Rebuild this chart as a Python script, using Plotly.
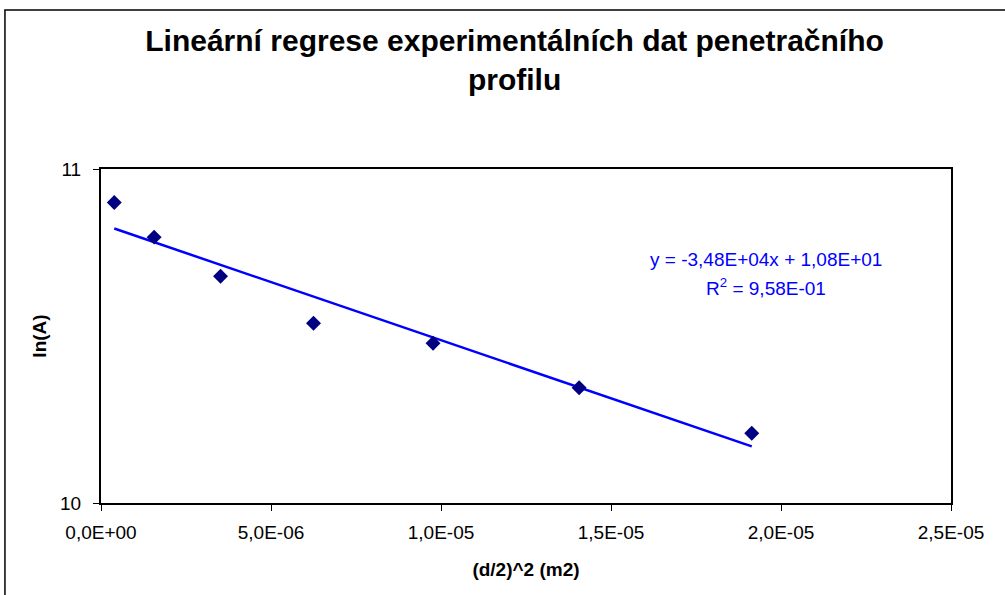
import numpy as np
import plotly.graph_objects as go

# data
x_vals = [3.906e-07, 1.5625e-06, 3.516e-06, 6.25e-06, 9.766e-06, 1.40625e-05, 1.914e-05]
y_vals = [10.900, 10.796, 10.679, 10.538, 10.478, 10.345, 10.209]
x_tick_vals = [0, 5e-06, 1e-05, 1.5e-05, 2e-05, 2.5e-05]
x_tick_text = ["0,0E+00", "5,0E-06", "1,0E-05", "1,5E-05", "2,0E-05", "2,5E-05"]
y_tick_vals = [10, 11]
y_tick_text = ["10", "11"]
title_text = "Lineární regrese experimentálních dat penetračního<br>profilu"
x_title = "(d/2)^2 (m2)"
y_title = "ln(A)"
eq_line1 = "y = -3,48E+04x + 1,08E+01"
eq_line2 = "R<sup>2</sup> = 9,58E-01"

# linear trendline from data
slope, intercept = np.polyfit(x_vals, y_vals, 1)
x_fit = [min(x_vals), max(x_vals)]
y_fit = [slope * v + intercept for v in x_fit]

FONT = "Liberation Sans, Arial, sans-serif"

fig = go.Figure()
fig.add_trace(go.Scatter(
    x=x_fit, y=y_fit, mode="lines",
    line=dict(color="#0000FF", width=2.5),
    showlegend=False, hoverinfo="skip",
))
fig.add_trace(go.Scatter(
    x=x_vals, y=y_vals, mode="markers",
    marker=dict(symbol="diamond", size=11.5, color="#000080",
                line=dict(color="#000080", width=0)),
    showlegend=False,
))

fig.update_layout(
    width=1005, height=595,
    margin=dict(l=101, r=54, t=169, b=92),
    paper_bgcolor="white", plot_bgcolor="white",
    font=dict(family=FONT, color="black", size=19),
    title=dict(text="<b>" + title_text + "</b>",
               x=0.512, xanchor="center", y=0.915, yanchor="top",
               font=dict(family=FONT, size=30, color="black")),
    xaxis=dict(range=[0, 2.5e-05], tickvals=x_tick_vals, ticktext=x_tick_text,
               showgrid=False, zeroline=False, showline=True, mirror=True,
               linecolor="black", linewidth=2, ticks="outside", ticklen=6,
               tickcolor="black", tickwidth=1, ticklabelstandoff=5,
               tickfont=dict(size=19),
               title=dict(text="<b>" + x_title + "</b>", standoff=21,
                          font=dict(size=19))),
    yaxis=dict(range=[10, 11], tickvals=y_tick_vals, ticktext=y_tick_text,
               showgrid=False, zeroline=False, showline=True, mirror=True,
               linecolor="black", linewidth=2, ticks="outside", ticklen=6,
               tickcolor="black", tickwidth=1, ticklabelstandoff=8,
               tickfont=dict(size=19),
               title=dict(text="<b>" + y_title + "</b>", standoff=8,
                          font=dict(size=19))),
)

fig.add_annotation(text=eq_line1, xref="paper", yref="paper",
                   x=0.7824, y=0.729, xanchor="center", yanchor="middle",
                   showarrow=False, font=dict(size=19, color="#0000FF"))
fig.add_annotation(text=eq_line2, xref="paper", yref="paper",
                   x=0.7824, y=0.648, xanchor="center", yanchor="middle",
                   showarrow=False, font=dict(size=19, color="#0000FF"))

# outer chart frame
fig.add_shape(type="rect", xref="paper", yref="paper",
              x0=-0.113, x1=1.07, y0=-0.3, y1=1.476,
              line=dict(color="black", width=1.5), layer="below")

fig.write_html("out.html",
               config={"displayModeBar": False},
               post_script="document.body.style.margin='0';document.body.style.overflow='hidden';")
